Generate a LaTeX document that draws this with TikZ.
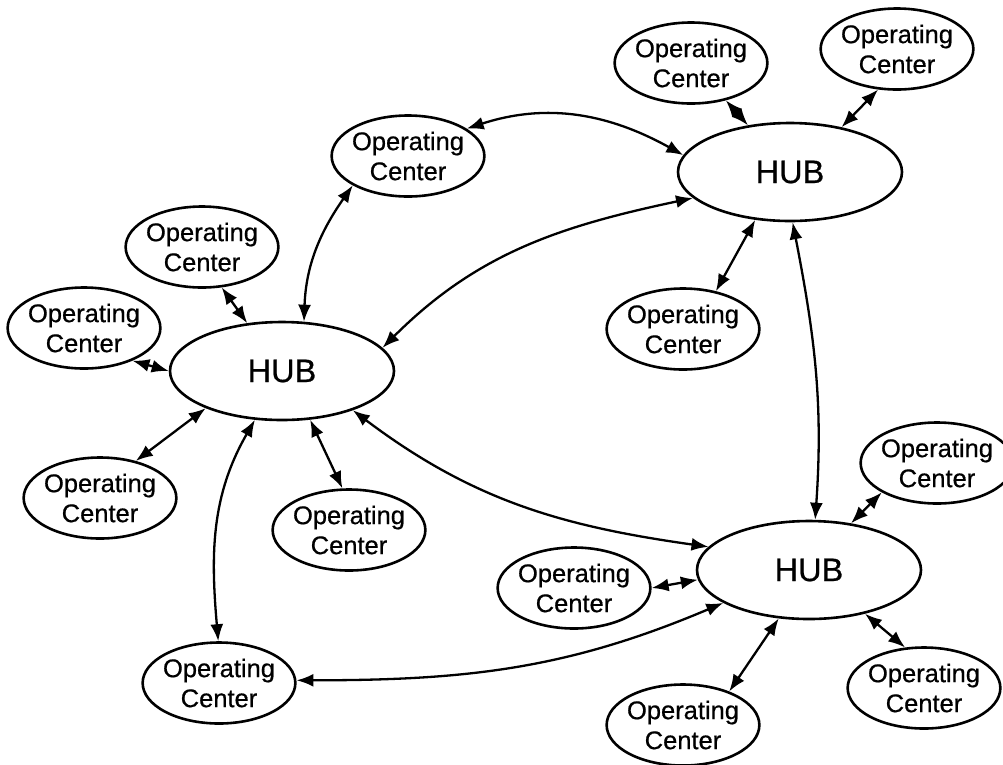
\documentclass[tikz,border=0pt]{standalone}
\usepackage{fontspec}
\setmainfont{Liberation Sans}
\newfontfamily\ocfont{Liberation Sans}[FakeBold=0.6]
\usetikzlibrary{shapes.geometric,arrows.meta}
\begin{document}
\begin{tikzpicture}[
  oc/.style={ellipse, draw, line width=2.6pt, minimum width=150pt, minimum height=81pt,
    inner xsep=-2pt, inner ysep=0pt, align=center, font=\ocfont\fontsize{25.5}{30}\selectfont},
  hub/.style={ellipse, draw, line width=2.6pt, minimum width=224pt, minimum height=98pt,
    inner sep=0pt, font=\ocfont\fontsize{32.5}{38}\selectfont},
  link/.style={line width=2.3pt, {Latex[length=17pt,width=13pt]}-{Latex[length=17pt,width=13pt]}}
]
\useasboundingbox (0pt,0pt) rectangle (1003pt,-764pt);

\node[hub] (hub1) at (282pt,-371pt) {HUB};
\node[hub] (hub2) at (790pt,-172pt) {HUB};
\node[hub] (hub3) at (809pt,-570pt) {HUB};

\node[oc] (oc1) at (408pt,-156pt) {Operating\\Center};
\node[oc] (oc2) at (202pt,-247pt) {Operating\\Center};
\node[oc] (oc3) at (84pt,-328pt) {Operating\\Center};
\node[oc] (oc4) at (691pt,-63pt) {Operating\\Center};
\node[oc] (oc5) at (897pt,-49pt) {Operating\\Center};
\node[oc] (oc6) at (683pt,-329pt) {Operating\\Center};
\node[oc] (oc7) at (100pt,-498pt) {Operating\\Center};
\node[oc] (oc8) at (349pt,-530pt) {Operating\\Center};
\node[oc] (oc9) at (219pt,-683pt) {Operating\\Center};
\node[oc] (oc10) at (937pt,-463pt) {Operating\\Center};
\node[oc] (oc11) at (574pt,-588pt) {Operating\\Center};
\node[oc] (oc12) at (683pt,-725pt) {Operating\\Center};
\node[oc] (oc13) at (924pt,-688pt) {Operating\\Center};

% short straight links
\draw[link] (oc2.-64) -- (hub1.126);
\draw[link] (oc3.-34) -- (hub1.180);
\draw[link] (oc7.46) -- (hub1.-154);
\draw[link] (hub1.-60) -- (oc8.99);
\draw[link] (oc4.-47) -- (hub2.132);
\draw[link] (oc5.-115) -- (hub2.41);
\draw[link] (hub2.-126) -- (oc6.49);
\draw[link] (oc10.-152) -- (hub3.48);
\draw[link] (oc11.0) -- (hub3.-175);
\draw[link] (hub3.-122) -- (oc12.36);
\draw[link] (hub3.-38) -- (oc13.115);

% long curved links
\draw[link] (oc1.25) to[out=18, in=151] (hub2.171);
\draw[link] (oc1.-152) to[out=-125, in=88] (hub1.66);
\draw[link] (hub2.-165) to[out=-168, in=45] (hub1.13);
\draw[link] (hub2.-87) to[out=-79, in=86] (hub3.83);
\draw[link] (hub1.-29) to[out=-37, in=172] (hub3.167);
\draw[link] (hub1.-119) to[out=-120, in=95] (oc9.91);
\draw[link] (hub3.-159) to[out=-157, in=0] (oc9.2);
\end{tikzpicture}
\end{document}
